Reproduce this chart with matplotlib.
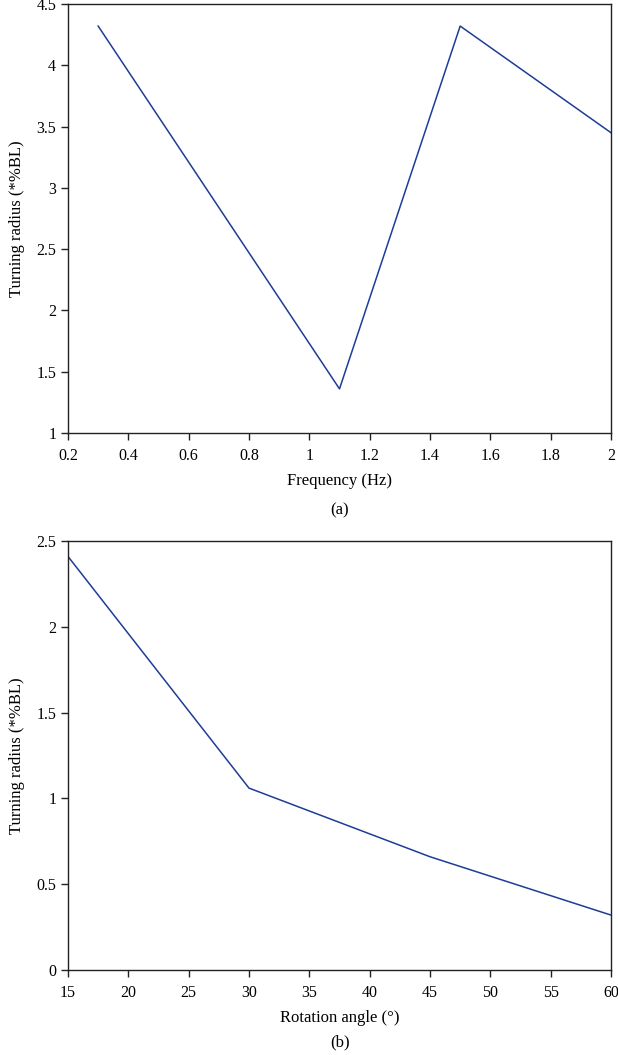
import matplotlib
matplotlib.use('Agg')
import matplotlib.pyplot as plt

plt.rcParams['font.family'] = ['Liberation Serif', 'DejaVu Serif']

# (a) turning radius vs frequency
freq = [0.3, 1.1, 1.5, 2.0]
radius_a = [4.32, 1.36, 4.32, 3.45]

# (b) turning radius vs rotation angle
angle = [15, 30, 45, 60]
radius_b = [2.41, 1.06, 0.66, 0.32]

line_color = '#1d3d96'

fig = plt.figure(figsize=(6.18, 10.55), dpi=100)
W, H = 618, 1055

ax1 = fig.add_axes([68 / W, 1 - 433 / H, (611 - 68) / W, (433 - 4) / H])
ax2 = fig.add_axes([68 / W, 1 - 970 / H, (611 - 68) / W, (970 - 541) / H])

ax1.plot(freq, radius_a, color=line_color, lw=1.1)
ax1.set_xlim(0.2, 2.0)
ax1.set_ylim(1, 4.5)
ax1.set_xticks([0.2, 0.4, 0.6, 0.8, 1.0, 1.2, 1.4, 1.6, 1.8, 2.0])
ax1.set_xticklabels(['0.2', '0.4', '0.6', '0.8', '1', '1.2', '1.4', '1.6', '1.8', '2'])
ax1.set_yticks([1, 1.5, 2, 2.5, 3, 3.5, 4, 4.5])
ax1.set_yticklabels(['1', '1.5', '2', '2.5', '3', '3.5', '4', '4.5'])
ax1.set_xlabel('Frequency (Hz)', fontsize=12, labelpad=6)
ax1.set_ylabel('Turning radius (*%BL)', fontsize=12, labelpad=8)

ax2.plot(angle, radius_b, color=line_color, lw=1.1)
ax2.set_xlim(15, 60)
ax2.set_ylim(0, 2.5)
ax2.set_xticks(range(15, 61, 5))
ax2.set_yticks([0, 0.5, 1, 1.5, 2, 2.5])
ax2.set_yticklabels(['0', '0.5', '1', '1.5', '2', '2.5'])
ax2.set_xlabel('Rotation angle (°)', fontsize=12, labelpad=6)
ax2.set_ylabel('Turning radius (*%BL)', fontsize=12, labelpad=8)

for ax in (ax1, ax2):
    for s in ax.spines.values():
        s.set_color('#222222')
        s.set_linewidth(1.0)
    ax.tick_params(direction='out', length=5, width=1, colors='#222222',
                   labelsize=11.5, labelcolor='black')
    ax.tick_params(axis='x', pad=6)

fig.text(340 / W, 1 - 510 / H, '(a)', ha='center', va='center', fontsize=12)
fig.text(340 / W, 1 - 1042 / H, '(b)', ha='center', va='center', fontsize=12)

fig.savefig('out.png', dpi=100)
